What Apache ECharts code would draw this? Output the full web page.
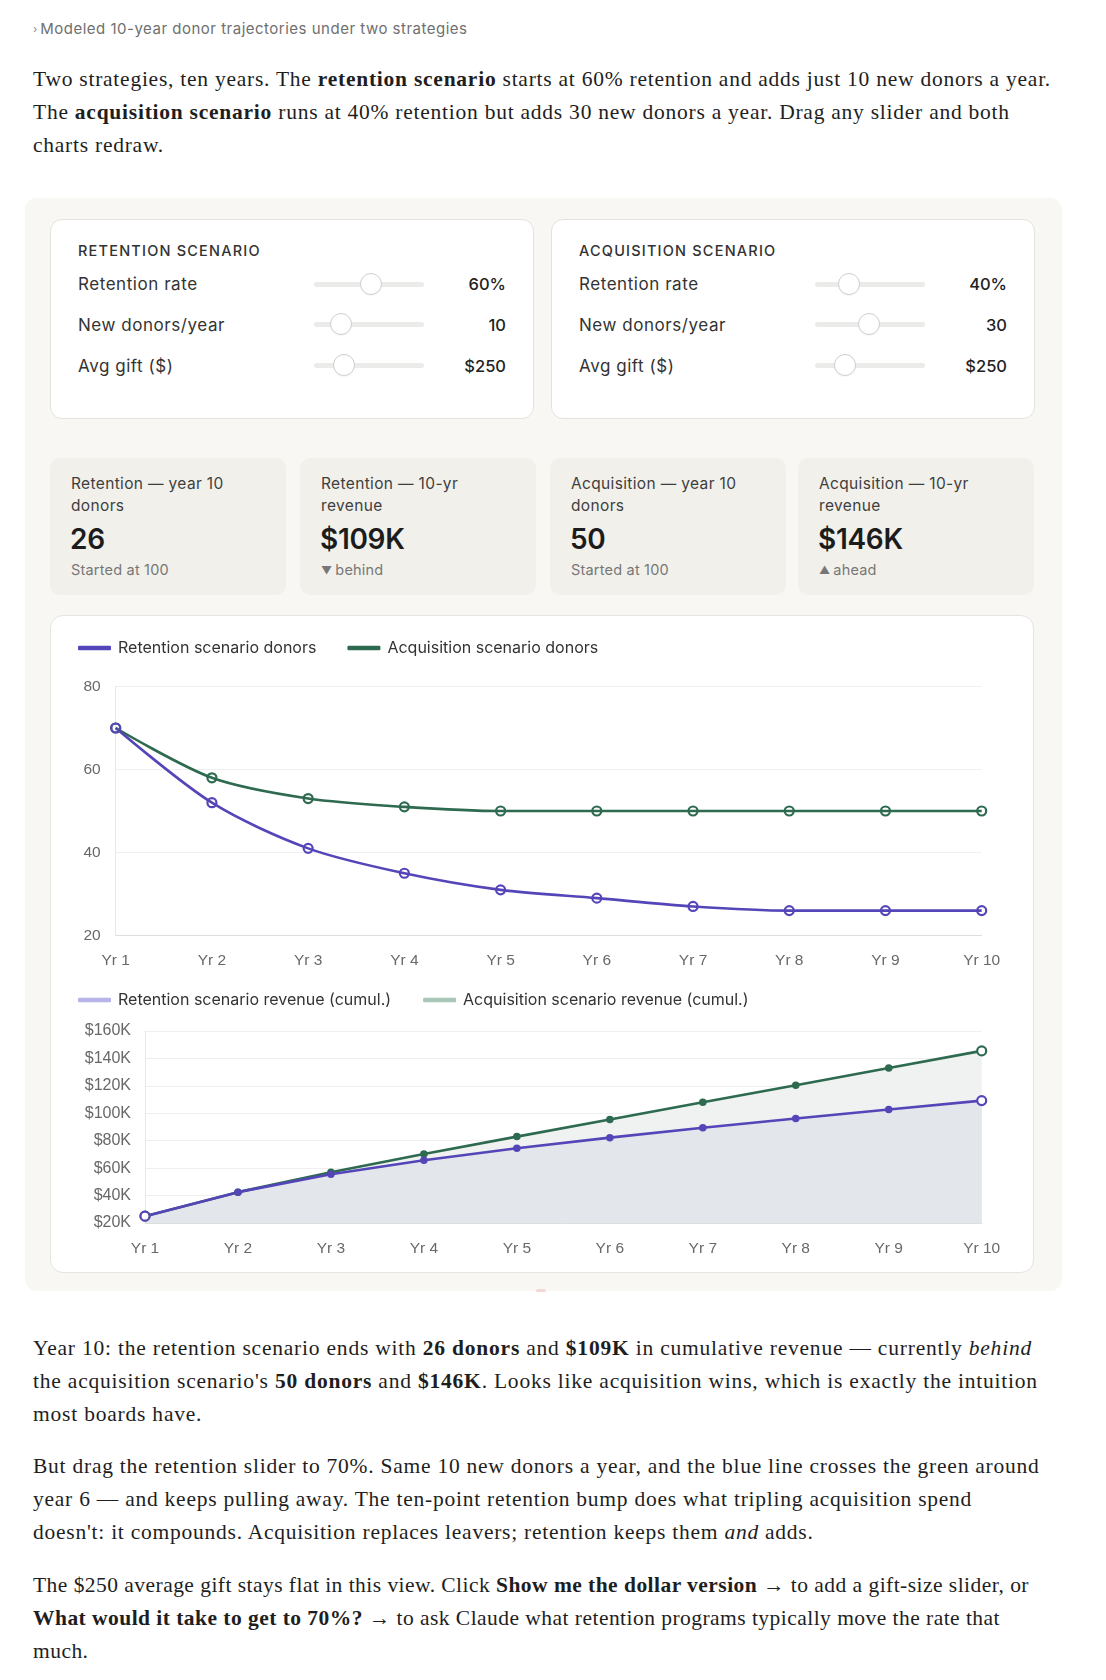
<!DOCTYPE html>
<html>
<head>
<meta charset="utf-8">
<script src="https://cdn.jsdelivr.net/npm/echarts/dist/echarts.min.js"></script>
<style>
  html, body { margin: 0; padding: 0; background: #ffffff; }
  body { width: 1106px; height: 1680px; position: relative; overflow: hidden; font-family: Inter, "Liberation Sans", sans-serif; color: #2b2b2b; }
  .abs { position: absolute; }
  .caption { left: 33px; top: 19px; font-size: 15px; letter-spacing: 0.5px; color: #6f6f6f; white-space: nowrap; line-height: 20px; }
  .caption .chev { font-size: 11px; color: #8a8a8a; margin-right: 3px; position: relative; top: -1px; letter-spacing: 0; }
  .prose { left: 33px; font-family: "Liberation Serif", "Times New Roman", serif; font-size: 21.5px; color: #1e1e1e; line-height: 33.3px; white-space: nowrap; }
  .prose .ln { display: block; height: 33.3px; }
  .prose .ln span.t { display: inline-block; }
  .prose b { font-weight: 700; }
  .panel { left: 25px; top: 198px; width: 1037px; height: 1093px; background: #f8f7f4; border-radius: 12px; }
  .ctl { top: 219px; width: 482px; height: 198px; background: #fff; border: 1px solid #e4e2dd; border-radius: 12px; }
  .ctl .title { position: absolute; left: 27px; top: 21px; font-size: 14.5px; letter-spacing: 1.2px; color: #333; font-weight: 500; line-height: 20px; }
  .ctl .row { position: absolute; left: 27px; right: 27px; height: 24px; }
  .ctl .row .lbl { position: absolute; left: 0; top: 0; font-size: 17px; letter-spacing: 0.55px; line-height: 24px; color: #333; }
  .ctl .row .val { position: absolute; right: 0; top: 0; font-size: 16.5px; line-height: 24px; color: #222; font-weight: 500; }
  .ctl .track { position: absolute; left: 236px; width: 110px; top: 9.5px; height: 5px; border-radius: 3px; background: #ebebea; }
  .ctl .thumb { position: absolute; top: 0.5px; width: 22px; height: 22px; margin-left: -11px; border-radius: 50%; background: #fff; border: 1px solid #cfcfcf; box-sizing: border-box; box-shadow: 0 1px 1px rgba(0,0,0,0.04); }
  .stat { top: 458px; width: 236px; height: 137px; background: #f2f0eb; border-radius: 10px; }
  .stat .lab { position: absolute; left: 21px; top: 15px; font-size: 15.5px; letter-spacing: 0.35px; line-height: 21.5px; color: #3e3e3e; }
  .stat .big { position: absolute; left: 20px; top: 64px; font-size: 28px; line-height: 34px; font-weight: 600; color: #1c1c1c; letter-spacing: -0.3px; }
  .stat .sub { position: absolute; left: 21px; top: 102px; font-size: 14.5px; letter-spacing: 0.2px; line-height: 20px; color: #777; }
  .stat .sub .tri { font-size: 11px; position: relative; top: -1px; margin-right: 3px; }
  .card { left: 50px; top: 615px; width: 982px; height: 656px; background: #fff; border: 1px solid #e6e4df; border-radius: 13px; }
  #chart { position: absolute; left: 50px; top: 615px; width: 984px; height: 658px; }
  .mark { left: 536px; top: 1289px; width: 10px; height: 3px; border-radius: 2px; background: #f3d9d5; }
</style>
</head>
<body>
<script>
  // ---- Data ----
  const years = ['Yr 1', 'Yr 2', 'Yr 3', 'Yr 4', 'Yr 5', 'Yr 6', 'Yr 7', 'Yr 8', 'Yr 9', 'Yr 10'];
  const retentionDonors = [70, 52, 41, 35, 31, 29, 27, 26, 26, 26];
  const acquisitionDonors = [70, 58, 53, 51, 50, 50, 50, 50, 50, 50];
  const retentionRevenue = [25000, 42500, 55500, 65750, 74500, 82250, 89500, 96250, 102750, 109250];
  const acquisitionRevenue = [25000, 42500, 57000, 70250, 83000, 95500, 108000, 120500, 133000, 145500];
  const donorAxis = [20, 80, 20];          // min, max, interval
  const revenueAxis = [20000, 160000, 20000]; // min, max, interval
  const seriesNames = ['Retention scenario donors', 'Acquisition scenario donors', 'Retention scenario revenue (cumul.)', 'Acquisition scenario revenue (cumul.)'];
</script>

<div class="abs caption"><span class="chev">›</span>Modeled 10-year donor trajectories under two strategies</div>

<div class="abs prose" style="top:62.5px" data-fit="1018">
  <span class="ln"><span class="t">Two strategies, ten years. The <b>retention scenario</b> starts at 60% retention and adds just 10 new donors a year.</span></span>
  <span class="ln"><span class="t">The <b>acquisition scenario</b> runs at 40% retention but adds 30 new donors a year. Drag any slider and both</span></span>
  <span class="ln"><span class="t">charts redraw.</span></span>
</div>

<div class="abs panel"></div>

<div class="abs ctl" style="left:50px">
  <div class="title">RETENTION SCENARIO</div>
  <div class="row" style="top:52px"><div class="lbl">Retention rate</div><div class="track"></div><div class="thumb" style="left:293px"></div><div class="val">60%</div></div>
  <div class="row" style="top:92.5px"><div class="lbl">New donors/year</div><div class="track"></div><div class="thumb" style="left:263px"></div><div class="val">10</div></div>
  <div class="row" style="top:133.5px"><div class="lbl">Avg gift ($)</div><div class="track"></div><div class="thumb" style="left:266px"></div><div class="val">$250</div></div>
</div>

<div class="abs ctl" style="left:551px">
  <div class="title">ACQUISITION SCENARIO</div>
  <div class="row" style="top:52px"><div class="lbl">Retention rate</div><div class="track"></div><div class="thumb" style="left:270px"></div><div class="val">40%</div></div>
  <div class="row" style="top:92.5px"><div class="lbl">New donors/year</div><div class="track"></div><div class="thumb" style="left:290px"></div><div class="val">30</div></div>
  <div class="row" style="top:133.5px"><div class="lbl">Avg gift ($)</div><div class="track"></div><div class="thumb" style="left:266px"></div><div class="val">$250</div></div>
</div>

<div class="abs stat" style="left:50px"><div class="lab">Retention — year 10<br>donors</div><div class="big">26</div><div class="sub">Started at 100</div></div>
<div class="abs stat" style="left:300px"><div class="lab">Retention — 10-yr<br>revenue</div><div class="big">$109K</div><div class="sub"><span class="tri">▼</span>behind</div></div>
<div class="abs stat" style="left:550px"><div class="lab">Acquisition — year 10<br>donors</div><div class="big">50</div><div class="sub">Started at 100</div></div>
<div class="abs stat" style="left:798px"><div class="lab">Acquisition — 10-yr<br>revenue</div><div class="big">$146K</div><div class="sub"><span class="tri">▲</span>ahead</div></div>

<div class="abs card"></div>
<div id="chart"></div>
<div class="abs mark"></div>

<div class="abs prose" style="top:1331.5px" data-fit="999">
  <span class="ln"><span class="t">Year 10: the retention scenario ends with <b>26 donors</b> and <b>$109K</b> in cumulative revenue — currently <i>behind</i></span></span>
  <span class="ln"><span class="t">the acquisition scenario's <b>50 donors</b> and <b>$146K</b>. Looks like acquisition wins, which is exactly the intuition</span></span>
  <span class="ln"><span class="t">most boards have.</span></span>
</div>

<div class="abs prose" style="top:1449.5px" data-fit="1006.5">
  <span class="ln"><span class="t">But drag the retention slider to 70%. Same 10 new donors a year, and the blue line crosses the green around</span></span>
  <span class="ln"><span class="t">year 6 — and keeps pulling away. The ten-point retention bump does what tripling acquisition spend</span></span>
  <span class="ln"><span class="t">doesn't: it compounds. Acquisition replaces leavers; retention keeps them <i>and</i> adds.</span></span>
</div>

<div class="abs prose" style="top:1568.5px" data-fit="996">
  <span class="ln"><span class="t">The $250 average gift stays flat in this view. Click <b>Show me the dollar version</b> → to add a gift-size slider, or</span></span>
  <span class="ln"><span class="t"><b>What would it take to get to 70%?</b> → to ask Claude what retention programs typically move the rate that</span></span>
  <span class="ln"><span class="t">much.</span></span>
</div>

<script>
  function fitProse() {
    document.querySelectorAll('.prose[data-fit]').forEach(function (p) {
      const target = parseFloat(p.getAttribute('data-fit'));
      const first = p.querySelector('.t');
      first.style.letterSpacing = '0px';
      const w = first.getBoundingClientRect().width;
      const n = first.textContent.length;
      const ls = (target - w) / n;
      p.querySelectorAll('.t').forEach(function (t) { t.style.letterSpacing = ls + 'px'; });
    });
  }
  fitProse();

  const BLUE = '#5446b8';
  const GREEN = '#2d6a4f';
  const axisFont = 'Liberation Sans, Arial, sans-serif';

  function revPoints(arr, color) {
    return arr.map(function (v, i) {
      const end = (i === 0 || i === arr.length - 1);
      return end
        ? { value: v, symbol: 'circle', symbolSize: 9, itemStyle: { color: '#ffffff', borderColor: color, borderWidth: 2.2 } }
        : { value: v, symbol: 'circle', symbolSize: 7.5, itemStyle: { color: color, borderWidth: 0 } };
    });
  }

  const chart = echarts.init(document.getElementById('chart'), null, { renderer: 'canvas' });
  const baseLabel = { color: '#686868', fontSize: 15.5, fontFamily: axisFont };
  const legendText = { fontFamily: 'Inter, sans-serif', fontSize: 16, color: '#333', lineHeight: 20, padding: [0, 0, 0, 2] };
  const option = {
    animation: false,
    legend: [
      {
        left: 23, top: 18, itemWidth: 33, itemHeight: 4.5, itemGap: 31, icon: 'roundRect',
        textStyle: legendText, itemStyle: { borderWidth: 0 },
        data: [
          { name: seriesNames[0], itemStyle: { color: BLUE, borderWidth: 0 } },
          { name: seriesNames[1], itemStyle: { color: GREEN, borderWidth: 0 } }
        ],
        selectedMode: false
      },
      {
        left: 23, top: 370, itemWidth: 33, itemHeight: 4.5, itemGap: 32, icon: 'roundRect',
        textStyle: legendText, itemStyle: { borderWidth: 0 },
        data: [
          { name: seriesNames[2], itemStyle: { color: '#b8b3e8', borderWidth: 0 } },
          { name: seriesNames[3], itemStyle: { color: '#a9c7b7', borderWidth: 0 } }
        ],
        selectedMode: false
      }
    ],
    grid: [
      { left: 65.7, right: 52.3, top: 71.5, height: 249 },
      { left: 95, right: 52.3, top: 416, height: 192 }
    ],
    xAxis: [
      { gridIndex: 0, type: 'category', data: years, boundaryGap: false,
        axisLine: { lineStyle: { color: '#dedede' } }, axisTick: { show: false },
        axisLabel: Object.assign({ margin: 17.5 }, baseLabel), splitLine: { show: false } },
      { gridIndex: 1, type: 'category', data: years, boundaryGap: false,
        axisLine: { lineStyle: { color: '#dedede' } }, axisTick: { show: false },
        axisLabel: Object.assign({ margin: 18 }, baseLabel), splitLine: { show: false } }
    ],
    yAxis: [
      { gridIndex: 0, type: 'value', min: donorAxis[0], max: donorAxis[1], interval: donorAxis[2],
        axisLine: { show: true, lineStyle: { color: '#e8e8e8' } }, axisTick: { show: false },
        axisLabel: Object.assign({ margin: 15 }, baseLabel),
        splitLine: { lineStyle: { color: '#efefef' } } },
      { gridIndex: 1, type: 'value', min: revenueAxis[0], max: revenueAxis[1], interval: revenueAxis[2],
        axisLine: { show: true, lineStyle: { color: '#e8e8e8' } }, axisTick: { show: false },
        axisLabel: Object.assign({ margin: 14, formatter: function (v) { return '$' + (v / 1000) + 'K'; } }, baseLabel, { fontSize: 16 }),
        splitLine: { lineStyle: { color: '#efefef' } } }
    ],
    series: [
      { name: seriesNames[1], type: 'line', xAxisIndex: 0, yAxisIndex: 0, data: acquisitionDonors,
        smooth: 0.3, symbol: 'circle', symbolSize: 9,
        lineStyle: { color: GREEN, width: 2.6 },
        itemStyle: { color: 'rgba(255,255,255,0)', borderColor: GREEN, borderWidth: 2.2 } },
      { name: seriesNames[0], type: 'line', xAxisIndex: 0, yAxisIndex: 0, data: retentionDonors,
        smooth: 0.3, symbol: 'circle', symbolSize: 9,
        lineStyle: { color: BLUE, width: 2.6 },
        itemStyle: { color: 'rgba(255,255,255,0)', borderColor: BLUE, borderWidth: 2.2 } },
      { name: seriesNames[3], type: 'line', xAxisIndex: 1, yAxisIndex: 1, data: revPoints(acquisitionRevenue, GREEN),
        lineStyle: { color: GREEN, width: 2.6 }, itemStyle: { color: GREEN },
        areaStyle: { color: '#eff2f0', opacity: 1 } },
      { name: seriesNames[2], type: 'line', xAxisIndex: 1, yAxisIndex: 1, data: revPoints(retentionRevenue, BLUE),
        lineStyle: { color: BLUE, width: 2.6 }, itemStyle: { color: BLUE },
        areaStyle: { color: '#e3e6eb', opacity: 1 } }
    ]
  };
  chart.setOption(option);
  if (document.fonts && document.fonts.ready) { document.fonts.ready.then(fitProse); }
</script>
</body>
</html>
